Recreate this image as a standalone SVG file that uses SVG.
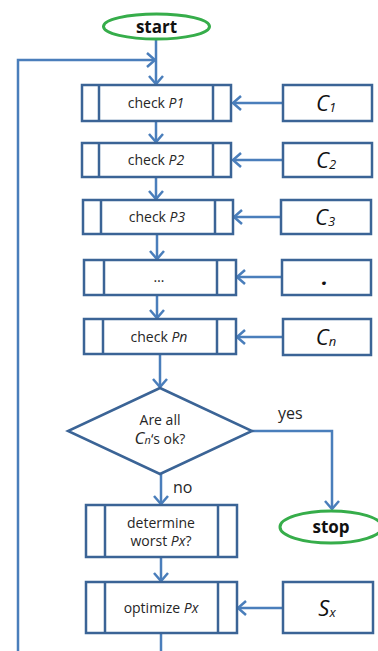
<svg xmlns="http://www.w3.org/2000/svg" width="378" height="651" viewBox="0 0 378 651">
<style>
.box{fill:#fff;stroke:#3b6496;stroke-width:2.5}
.in{stroke:#3b6496;stroke-width:2.5}
.term{fill:#fff;stroke:#36ad4a;stroke-width:3}
.con{fill:none;stroke:#4a7ebb;stroke-width:2.5}
.t{font-family:"Open Sans","Liberation Sans",sans-serif;font-size:14px;fill:#262626;text-anchor:middle}
.big{font-family:"Open Sans","Liberation Sans",sans-serif;font-size:22px;fill:#111;text-anchor:middle;font-style:italic}
.tb{font-family:"Open Sans","Liberation Sans",sans-serif;font-size:17px;font-weight:bold;fill:#111;text-anchor:middle}
.lbl{font-family:"Open Sans","Liberation Sans",sans-serif;font-size:16px;fill:#262626}
</style>
<defs>
<marker id="arr" markerUnits="userSpaceOnUse" markerWidth="14" markerHeight="16" refX="10" refY="8" orient="auto">
<path d="M2,1 L10,8 L2,15" fill="none" stroke="#4a7ebb" stroke-width="2.5"/>
</marker>
</defs>
<g id="connectors">
<path class="con" d="M156,39 V84" marker-end="url(#arr)"/>
<path class="con" d="M18,651 V60 H155" marker-end="url(#arr)"/>
<path class="con" d="M156,121 V142" marker-end="url(#arr)"/>
<path class="con" d="M156,177 V199" marker-end="url(#arr)"/>
<path class="con" d="M157,234 V259" marker-end="url(#arr)"/>
<path class="con" d="M157,295 V318" marker-end="url(#arr)"/>
<path class="con" d="M160,354 V387" marker-end="url(#arr)"/>
<path class="con" d="M161,474 V504" marker-end="url(#arr)"/>
<path class="con" d="M161,557 V581" marker-end="url(#arr)"/>
<path class="con" d="M161,633 V651"/>
<path class="con" d="M252,431 H332 V509" marker-end="url(#arr)"/>
<path class="con" d="M283,103 H233" marker-end="url(#arr)"/>
<path class="con" d="M283,160 H233" marker-end="url(#arr)"/>
<path class="con" d="M281,217 H234" marker-end="url(#arr)"/>
<path class="con" d="M282,277 H237" marker-end="url(#arr)"/>
<path class="con" d="M283,337 H237" marker-end="url(#arr)"/>
<path class="con" d="M283,608 H238" marker-end="url(#arr)"/>
</g>
<g id="start">
<ellipse class="term" cx="156.5" cy="26.5" rx="53" ry="12.5"/>
<text class="tb" x="156.5" y="32.5">start</text>
</g>
<g id="p1">
<rect class="box" x="82" y="85" width="149" height="36"/>
<line class="in" x1="99" y1="85" x2="99" y2="121"/><line class="in" x1="213" y1="85" x2="213" y2="121"/>
<text class="t" x="156" y="108">check <tspan font-style="italic">P1</tspan></text>
</g>
<g id="c1">
<rect class="box" x="283" y="85" width="89" height="36"/>
<text class="big" x="326" y="110.5">C<tspan font-size="13" dy="1">1</tspan></text>
</g>
<g id="p2">
<rect class="box" x="82" y="143" width="149" height="34"/>
<line class="in" x1="99" y1="143" x2="99" y2="177"/><line class="in" x1="213" y1="143" x2="213" y2="177"/>
<text class="t" x="156" y="165">check <tspan font-style="italic">P2</tspan></text>
</g>
<g id="c2">
<rect class="box" x="283" y="143" width="89" height="34"/>
<text class="big" x="326" y="167.5">C<tspan font-size="13" dy="1">2</tspan></text>
</g>
<g id="p3">
<rect class="box" x="83" y="200" width="150" height="34"/>
<line class="in" x1="101" y1="200" x2="101" y2="234"/><line class="in" x1="215" y1="200" x2="215" y2="234"/>
<text class="t" x="157" y="222">check <tspan font-style="italic">P3</tspan></text>
</g>
<g id="c3">
<rect class="box" x="281" y="200" width="90" height="34"/>
<text class="big" x="325" y="224.5">C<tspan font-size="13" dy="1">3</tspan></text>
</g>
<g id="pdots">
<rect class="box" x="84" y="260" width="152" height="35"/>
<line class="in" x1="104" y1="260" x2="104" y2="295"/><line class="in" x1="217" y1="260" x2="217" y2="295"/>
<text class="t" x="159" y="282">…</text>
</g>
<g id="cdots">
<rect class="box" x="282" y="260" width="89" height="35"/>
<text class="big" x="325" y="285" font-style="normal" font-weight="bold">.</text>
</g>
<g id="pn">
<rect class="box" x="84" y="319" width="152" height="35"/>
<line class="in" x1="103" y1="319" x2="103" y2="354"/><line class="in" x1="217" y1="319" x2="217" y2="354"/>
<text class="t" x="159" y="341.5">check <tspan font-style="italic">Pn</tspan></text>
</g>
<g id="cn">
<rect class="box" x="283" y="319" width="88" height="36"/>
<text class="big" x="326" y="344.5">C<tspan font-size="13" dy="1">n</tspan></text>
</g>
<g id="decision">
<polygon class="box" points="160,388 252,431 160,474 68,431"/>
<text class="t" x="160" y="425">Are all</text>
<text class="t" x="160" y="444"><tspan font-style="italic" font-size="17">C</tspan><tspan font-style="italic" font-size="11">n</tspan>‘s ok?</text>
</g>
<text class="lbl" x="278" y="419">yes</text>
<text class="lbl" x="173" y="493">no</text>
<g id="stop">
<ellipse class="term" cx="331" cy="527" rx="51" ry="16"/>
<text class="tb" x="331" y="533">stop</text>
</g>
<g id="determine">
<rect class="box" x="86" y="505" width="151" height="52"/>
<line class="in" x1="105" y1="505" x2="105" y2="557"/><line class="in" x1="218" y1="505" x2="218" y2="557"/>
<text class="t" x="161" y="527.5">determine</text>
<text class="t" x="161" y="545.5">worst <tspan font-style="italic">Px</tspan>?</text>
</g>
<g id="optimize">
<rect class="box" x="86" y="582" width="151" height="51"/>
<line class="in" x1="105" y1="582" x2="105" y2="633"/><line class="in" x1="218" y1="582" x2="218" y2="633"/>
<text class="t" x="161" y="612.5">optimize <tspan font-style="italic">Px</tspan></text>
</g>
<g id="sx">
<rect class="box" x="283" y="582" width="90" height="51"/>
<text class="big" x="327" y="615.5">S<tspan font-size="13" dy="1">x</tspan></text>
</g>
</svg>
